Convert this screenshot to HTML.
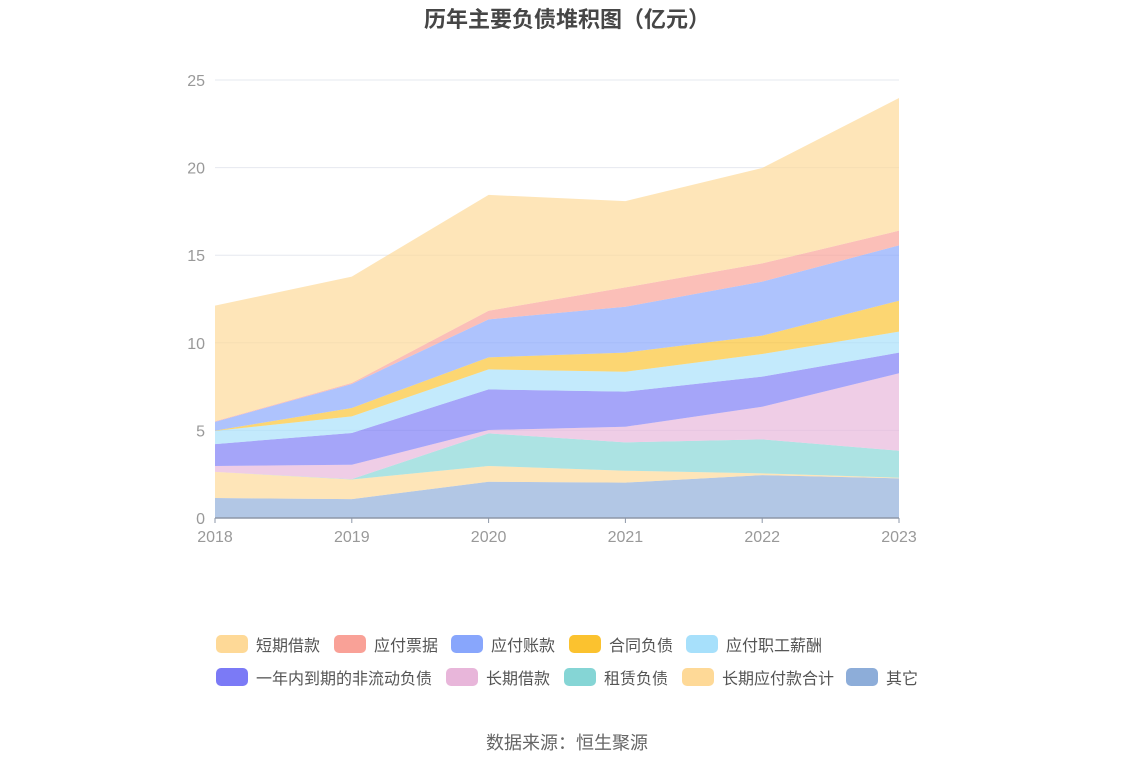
<!DOCTYPE html>
<html><head><meta charset="utf-8"><style>
body{margin:0;background:#fff;font-family:"Liberation Sans","Noto Sans CJK SC",sans-serif;}
#wrap{position:relative;width:1134px;height:766px;overflow:hidden;}
.t{position:absolute;white-space:nowrap;}
.lg{position:absolute;display:flex;align-items:center;font-size:16px;color:#555;}
.sw{width:32px;height:18px;border-radius:5px;margin-right:8px;}
</style></head><body>
<div id="wrap">
<div class="t" style="left:0;width:1134px;text-align:center;top:2px;font-size:22px;font-weight:bold;color:#464646;">历年主要负债堆积图（亿元）</div>
<svg id="chart" width="1134" height="600" style="position:absolute;left:0;top:0"></svg>
<div id="legend"></div>
<div class="t" style="left:0;width:1134px;text-align:center;top:729px;font-size:18px;color:#666;">数据来源：恒生聚源</div>
</div>
<script>
const years=["2018","2019","2020","2021","2022","2023"];
const yTicks=[0,5,10,15,20,25];
const seriesNames=["其它","长期应付款合计","租赁负债","长期借款","一年内到期的非流动负债","应付职工薪酬","合同负债","应付账款","应付票据","短期借款"];
const sOther=[1.14,1.08,2.07,2.02,2.45,2.26];
const sLongPay=[1.49,1.12,0.90,0.68,0.10,0.04];
const sLease=[0,0.02,1.86,1.62,1.94,1.54];
const sLongLoan=[0.34,0.82,0.19,0.89,1.86,4.42];
const sCurrentNon=[1.25,1.81,2.32,2.00,1.72,1.18];
const sSalary=[0.75,0.95,1.14,1.14,1.29,1.20];
const sContract=[0.02,0.48,0.69,1.09,1.05,1.76];
const sAccounts=[0.50,1.37,2.17,2.62,3.08,3.16];
const sNotes=[0.03,0.06,0.49,1.10,1.04,0.84];
const sShort=[6.60,6.07,6.61,4.93,5.45,7.57];
const seriesValues=[sOther,sLongPay,sLease,sLongLoan,sCurrentNon,sSalary,sContract,sAccounts,sNotes,sShort];
const colors=["#8dadd9","#fed997","#85d5d5","#e8b6da","#7b7af6","#a7e0fb","#fbc22f","#88a6fc","#f9a197","#fed997"];
const svg=document.getElementById('chart');
const NS="http://www.w3.org/2000/svg";
const X0=215,X1=899,Y0=518,Y1=80,YMAX=25;
const xs=i=>X0+(X1-X0)*i/(years.length-1);
const ys=v=>Y0-(Y0-Y1)*v/YMAX;
function mk(tag,attrs){const e=document.createElementNS(NS,tag);for(const k in attrs)e.setAttribute(k,attrs[k]);svg.appendChild(e);return e;}
yTicks.forEach(v=>{
  const g=mk('line',{x1:X0,x2:X1,y1:ys(v),y2:ys(v),stroke:'#e6e8ef','stroke-width':1});
  
  
  const t=mk('text',{x:205,y:ys(v)+6,'text-anchor':'end','font-size':16,fill:'#999'});
  t.textContent=v;
  
  
});
let base=years.map(()=>0);
seriesValues.forEach((arr,si)=>{
  const top=base.map((b,i)=>b+arr[i]);
  let d='M'+years.map((_,i)=>xs(i)+','+ys(top[i])).join('L');
  for(let i=years.length-1;i>=0;i--)d+='L'+xs(i)+','+ys(base[i]);
  d+='Z';
  const p=mk('path',{d:d,fill:colors[si],'fill-opacity':0.68,stroke:'none'});
  
  
  base=top;
});
const ax=mk('line',{x1:X0,x2:X1,y1:Y0,y2:Y0,stroke:'#8d97a8','stroke-width':1.5});


years.forEach((y,i)=>{
  const tk=mk('line',{x1:xs(i),x2:xs(i),y1:Y0,y2:Y0+5,stroke:'#8d97a8'});
  
  
  const t=mk('text',{x:xs(i),y:542,'text-anchor':'middle','font-size':16,fill:'#999'});
  t.textContent=y;
  
  
});
const legendItems=[["短期借款","#fed997",216,643],["应付票据","#f9a197",334,643],["应付账款","#88a6fc",451,643],["合同负债","#fbc22f",569,643],["应付职工薪酬","#a7e0fb",686,643],
["一年内到期的非流动负债","#7b7af6",216,676],["长期借款","#e8b6da",446,676],["租赁负债","#85d5d5",564,676],["长期应付款合计","#fed997",682,676],["其它","#8dadd9",846,676]];
const lg=document.getElementById('legend');
legendItems.forEach(it=>{
  const d=document.createElement('div');
  d.className='lg';
  d.style.left=it[2]+'px';d.style.top=(it[3]-11)+'px';
  d.innerHTML='<div class="sw" style="background:'+it[1]+'"></div><span>'+it[0]+'</span>';
  
  
  lg.appendChild(d);
});
</script>
</body></html>
